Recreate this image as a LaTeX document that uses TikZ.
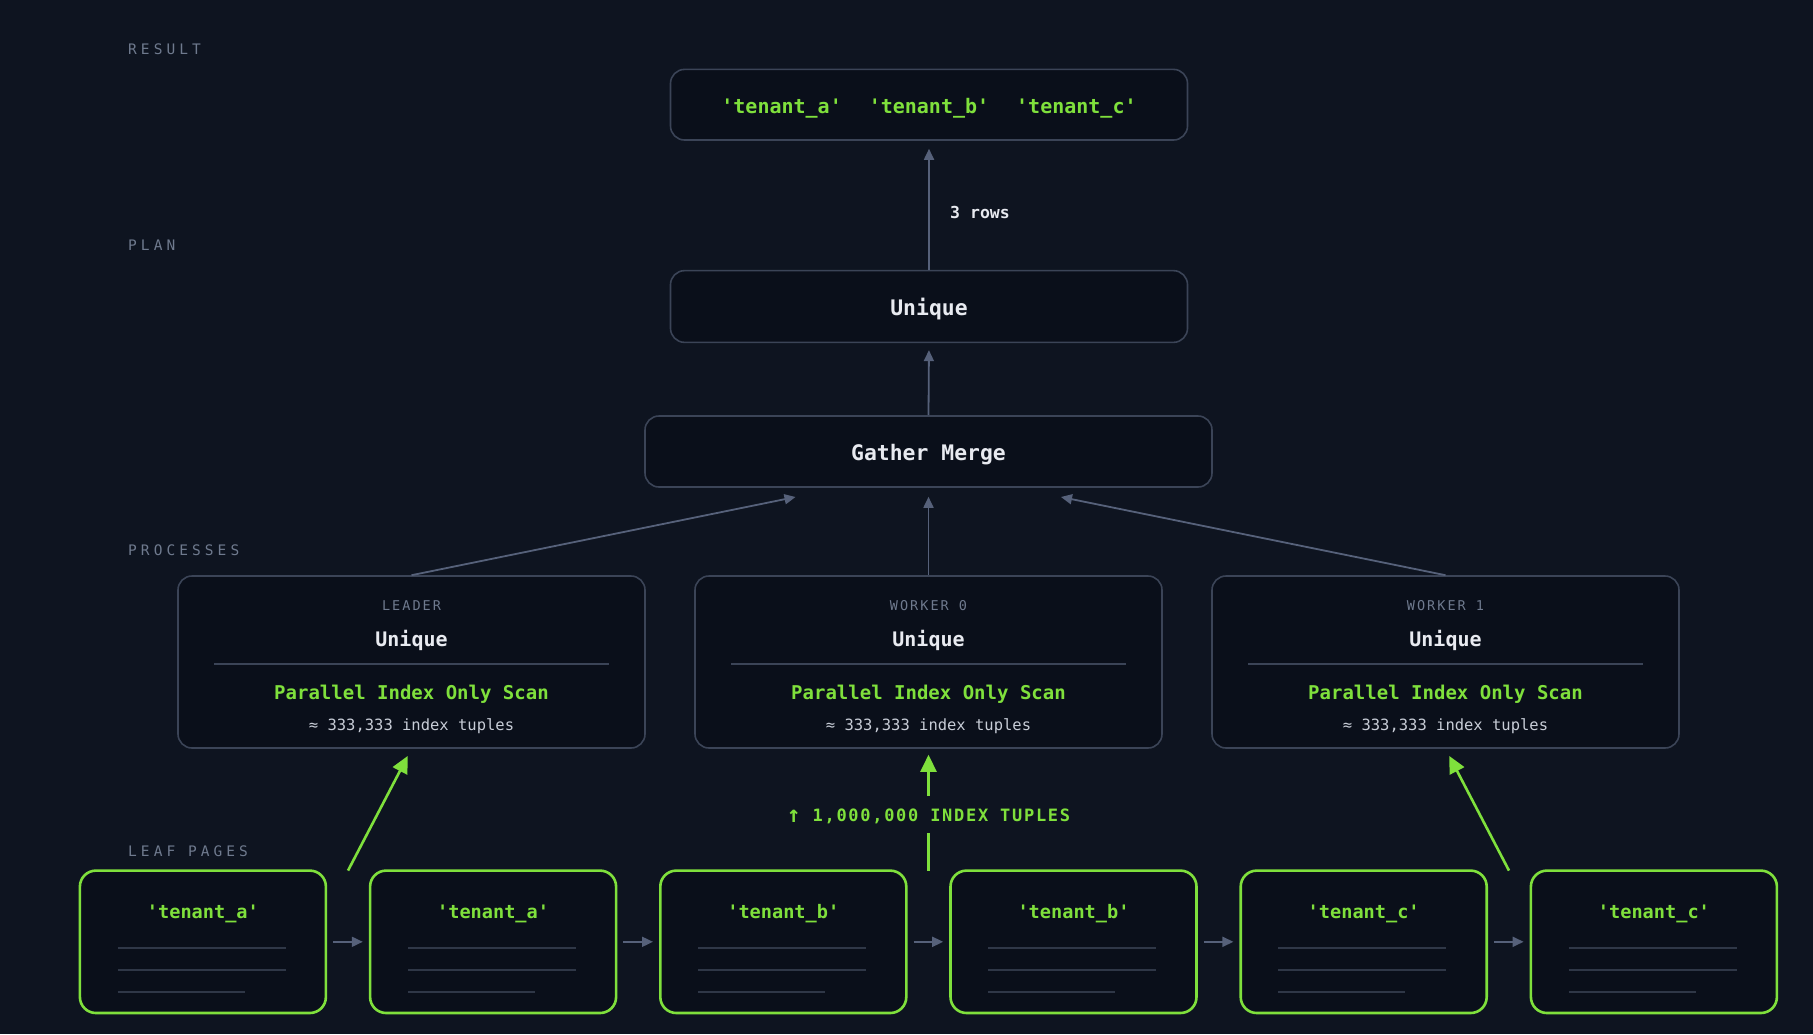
\documentclass[tikz,border=0pt]{standalone}
\usepackage{fontspec}
\setmonofont{DejaVu Sans Mono}
\newfontfamily\spacedA{DejaVu Sans Mono}[LetterSpace=28]
\newfontfamily\spacedB{DejaVu Sans Mono}[LetterSpace=15]
\newfontfamily\spacedC{DejaVu Sans Mono}[LetterSpace=10]
\usetikzlibrary{arrows.meta,calc}
\definecolor{bg}{HTML}{0E1420}
\definecolor{boxfill}{HTML}{0A0F1A}
\definecolor{boxline}{HTML}{3B4457}
\definecolor{lblgray}{HTML}{6F7A8E}
\definecolor{whitetxt}{HTML}{E8EAF0}
\definecolor{softtxt}{HTML}{C8CDD7}
\definecolor{lime}{HTML}{7FE03C}
\definecolor{arrgray}{HTML}{56617A}
\definecolor{leafline}{HTML}{2F3747}
\newcommand\fsz[1]{\fontsize{#1}{#1}\selectfont}
\begin{document}
\begin{tikzpicture}[x=1pt,y=-1pt,
  box/.style={draw=boxline, fill=boxfill, rounded corners=14pt, line width=1.6pt, inner sep=0pt},
  leaf/.style={draw=lime, fill=boxfill, rounded corners=16pt, line width=2.6pt, inner sep=0pt, minimum width=246, minimum height=142.4},
  proc/.style={box, minimum width=467, minimum height=172},
  t/.style={inner sep=0pt, text height=11.2pt, text depth=0pt},
  tb/.style={inner sep=0pt, text height=18pt, text depth=0pt},
  section/.style={t, anchor=west, text=lblgray, font=\spacedA\fsz{14.5}},
  title/.style={tb, text=whitetxt, font=\ttfamily\bfseries\fsz{21.4}},
  garrow/.style={draw=arrgray, line width=1.8pt, -{Triangle[length=11pt,width=10pt]}},
  grarrow/.style={draw=lime, line width=2.6pt, -{Triangle[length=17pt,width=16pt]}},
  leafrule/.style={draw=leafline, line width=2pt}
]
\fill[bg] (0,0) rectangle (1813,1034);
\useasboundingbox (0,0) rectangle (1813,1034);

% section labels
\node[section] (sres) at (128,48.6) {RESULT};
\node[section] (splan) at (128,245) {PLAN};
\node[section] (sproc) at (128,550) {PROCESSES};
\node[section] (sleaf) at (128,851) {LEAF PAGES};

% result
\node[box, minimum width=517, minimum height=70.6] (res) at (929,104.7) {};
\node[tb, text=lime, font=\ttfamily\bfseries\fsz{20}] (restxt) at (res.center)
  {'tenant\_a'\hspace{27pt}'tenant\_b'\hspace{27pt}'tenant\_c'};

% plan
\node[box, minimum width=517, minimum height=71.7] (uniq) at (929,306.5) {};
\node[title] (uniqtxt) at (uniq.center) {Unique};
\node[box, minimum width=567, minimum height=71] (gm) at (928.5,451.5) {};
\node[title] (gmtxt) at (gm.center) {Gather Merge};

\draw[garrow, shorten >=8pt] (uniq.north) -- (res.south);
\node[t, anchor=west, text=whitetxt, font=\ttfamily\bfseries\fsz{16.5}] (rows) at (950,213) {3 rows};
\draw[garrow, shorten >=7pt] (gm.north) -- (uniq.south);

% processes
\foreach \n/\cx/\who in {lead/411.5/LEADER, w0/928.5/WORKER 0, w1/1445.5/WORKER 1}{
  \node[proc] (\n) at (\cx,662) {};
  \node[t, text=lblgray, font=\spacedB\fsz{13.5}] (\n-who) at ($(\n.north)+(0,30)$) {\who};
  \node[title, font=\ttfamily\bfseries\fsz{20}] (\n-u) at ($(\n.north)+(0,62)$) {Unique};
  \draw[draw=boxline, line width=1.6pt] ($(\n.north west)+(37,89)$) -- ($(\n.north east)+(-37,89)$);
  \node[tb, text=lime, font=\ttfamily\bfseries\fsz{19}] (\n-s) at ($(\n.north)+(0,115)$) {Parallel Index Only Scan};
  \node[t, text height=14pt, text=softtxt, font=\ttfamily\fsz{15.5}] (\n-c) at ($(\n.north)+(0,148)$) {≈ 333,333 index tuples};
}

\coordinate (gmL) at (795.5,497);
\coordinate (gmR) at (1061,497);
\draw[garrow] (lead.north) -- (gmL);
\draw[garrow, shorten >=9pt] (w0.north) -- (gm.south);
\draw[garrow] (w1.north) -- (gmR);

% leaf pages
\foreach \i/\cx/\ch in {1/202.9/a,2/493.1/a,3/783.3/b,4/1073.5/b,5/1363.7/c,6/1653.9/c}{
  \node[leaf] (L\i) at (\cx,941.8) {};
  \node[tb, text=lime, font=\ttfamily\bfseries\fsz{18.6}] (L\i-t) at ($(L\i.north)+(0,40.5)$) {'tenant\_\ch'};
  \draw[leafrule] ($(L\i.north west)+(39,78.5)$) -- ++(168,0);
  \draw[leafrule] ($(L\i.north west)+(39,100.5)$) -- ++(168,0);
  \draw[leafrule] ($(L\i.north west)+(39,122.5)$) -- ++(127,0);
}
\foreach \i/\j in {1/2,2/3,3/4,4/5,5/6}{
  \draw[garrow, shorten <=6pt, shorten >=6pt] (L\i.east) -- (L\j.west);
}

% green arrows
\coordinate (gA) at (348,870.6);
\coordinate (gB) at (1509,870.6);
\coordinate (gC) at (928.5,870.6);
\coordinate (gD) at (928.5,796);
\draw[grarrow, shorten >=8pt] (gA) -- (lead.south);
\draw[grarrow, shorten >=8pt] (gB) -- (w1.south);
\draw[draw=lime, line width=2.6pt] (gC) -- ++(0,-38);
\draw[grarrow, shorten >=6pt] (gD) -- (w0.south);
\node[t, text=lime, font=\spacedC\bfseries\fsz{17}] (tuples) at (928.5,816) {{\fsz{23}\raisebox{-1pt}{↑}} 1,000,000 INDEX TUPLES};
\end{tikzpicture}
\end{document}
